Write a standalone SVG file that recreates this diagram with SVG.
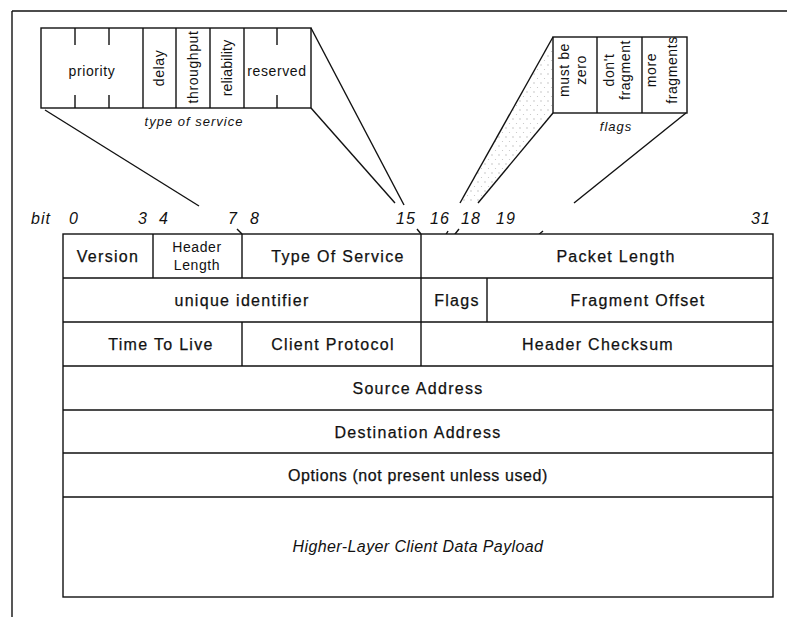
<svg xmlns="http://www.w3.org/2000/svg" width="787" height="617" viewBox="0 0 787 617">
<defs>
<style>
.ln{stroke:#111;stroke-width:1.4;fill:none}
.bx{stroke:#111;stroke-width:1.4;fill:#fff}
.t{font-family:"Liberation Sans",Arial,sans-serif;font-size:16px;fill:#111;text-anchor:middle;letter-spacing:1.3px;stroke:#111;stroke-width:0.25}
.s{font-family:"Liberation Sans",Arial,sans-serif;font-size:14px;fill:#111;text-anchor:middle;letter-spacing:0.6px}
.i{font-family:"Liberation Sans",Arial,sans-serif;font-style:italic;font-size:13px;fill:#111;text-anchor:middle;letter-spacing:1px}
.b{font-family:"Liberation Sans",Arial,sans-serif;font-style:italic;font-size:16px;fill:#111;text-anchor:middle;letter-spacing:1px}
</style>
<pattern id="dots" width="7" height="9" patternUnits="userSpaceOnUse">
<circle cx="2" cy="2" r="0.7" fill="#555"/>
<circle cx="5.5" cy="6.5" r="0.6" fill="#777"/>
</pattern>
</defs>
<rect x="0" y="0" width="787" height="617" fill="#fff"/>
<g id="frame">
<line class="ln" x1="12" y1="11" x2="787" y2="11"/>
<line class="ln" x1="12" y1="11" x2="12" y2="617"/>
</g>

<g id="tos-detail">
<rect class="bx" x="41" y="28" width="270" height="80"/>
<line class="ln" x1="143" y1="28" x2="143" y2="108"/>
<line class="ln" x1="176" y1="28" x2="176" y2="108"/>
<line class="ln" x1="210" y1="28" x2="210" y2="108"/>
<line class="ln" x1="244" y1="28" x2="244" y2="108"/>
<path class="ln" d="M75 28V45M109 28V45M75 95V108M109 95V108M277 28V45M277 95V108"/>
<text class="s" x="92" y="76">priority</text>
<text class="s" x="277" y="76">reserved</text>
<text class="s" transform="translate(164,68) rotate(-90)">delay</text>
<text class="s" transform="translate(198,67) rotate(-90)">throughput</text>
<text class="s" transform="translate(232,68) rotate(-90)" style="letter-spacing:0.2px">reliability</text>
<text class="i" x="194" y="126">type of service</text>
</g>

<g id="flags-detail">
<rect class="bx" x="553" y="37" width="134" height="76"/>
<line class="ln" x1="597" y1="37" x2="597" y2="113"/>
<line class="ln" x1="642" y1="37" x2="642" y2="113"/>
<text class="s" transform="translate(569,70) rotate(-90)">must be</text>
<text class="s" transform="translate(586,70) rotate(-90)">zero</text>
<text class="s" transform="translate(614,70) rotate(-90)">don't</text>
<text class="s" transform="translate(630,70) rotate(-90)">fragment</text>
<text class="s" transform="translate(656,70) rotate(-90)">more</text>
<text class="s" transform="translate(677,70) rotate(-90)">fragments</text>
<text class="i" x="616" y="131">flags</text>
</g>

<g id="bit-labels">
<text class="b" x="41" y="224">bit</text>
<text class="b" x="74" y="224">0</text>
<text class="b" x="143" y="224">3</text>
<text class="b" x="164" y="224">4</text>
<text class="b" x="233" y="224">7</text>
<text class="b" x="255" y="224">8</text>
<text class="b" x="406" y="224">15</text>
<text class="b" x="440" y="224">16</text>
<text class="b" x="471" y="224">18</text>
<text class="b" x="506" y="224">19</text>
<text class="b" x="761" y="224">31</text>
</g>

<g id="connectors">
<polygon points="553,40 553,113 478,203 460,203" fill="url(#dots)" opacity="0.45"/>
<line class="ln" x1="45" y1="110" x2="199" y2="206"/>
<line class="ln" x1="311" y1="28" x2="404" y2="205"/>
<line class="ln" x1="311" y1="108" x2="395" y2="203"/>
<line class="ln" x1="553" y1="37" x2="460" y2="203"/>
<line class="ln" x1="553" y1="113" x2="478" y2="203"/>
<line class="ln" x1="686" y1="113" x2="574" y2="203"/>
<line class="ln" x1="237" y1="229" x2="242" y2="234"/>
<line class="ln" x1="417" y1="229" x2="421" y2="234"/>
<line class="ln" x1="448" y1="231" x2="422" y2="276"/>
<line class="ln" x1="459" y1="229" x2="422" y2="276"/>
<line class="ln" x1="543" y1="231" x2="488" y2="277"/>
</g>

<g id="table">
<rect class="bx" x="63" y="234" width="710" height="363"/>
<path class="ln" d="M63 278H773M63 322H773M63 366H773M63 410H773M63 453H773M63 497H773"/>
<path class="ln" d="M153 234V278M242 234V278M421 234V366M487 278V322M242 322V366"/>
</g>
<g id="version"><text class="t" x="108" y="262">Version</text></g>
<g id="header-length"><text class="s" x="197" y="252">Header</text><text class="s" x="197" y="270">Length</text></g>
<g id="type-of-service"><text class="t" x="338" y="262">Type Of Service</text></g>
<g id="packet-length"><text class="t" x="616" y="262">Packet Length</text></g>
<g id="unique-identifier"><text class="t" x="242" y="306">unique identifier</text></g>
<g id="flags"><text class="t" x="457" y="306">Flags</text></g>
<g id="fragment-offset"><text class="t" x="638" y="306">Fragment Offset</text></g>
<g id="time-to-live"><text class="t" x="161" y="350">Time To Live</text></g>
<g id="client-protocol"><text class="t" x="333" y="350">Client Protocol</text></g>
<g id="header-checksum"><text class="t" x="598" y="350">Header Checksum</text></g>
<g id="source-address"><text class="t" x="418" y="394">Source Address</text></g>
<g id="destination-address"><text class="t" x="418" y="438">Destination Address</text></g>
<g id="options"><text class="t" x="418" y="481" style="letter-spacing:0.6px">Options (not present unless used)</text></g>
<g id="payload"><text class="t" x="418" y="552" style="font-style:italic;stroke-width:0;letter-spacing:0.4px">Higher-Layer Client Data Payload</text></g>
</svg>
